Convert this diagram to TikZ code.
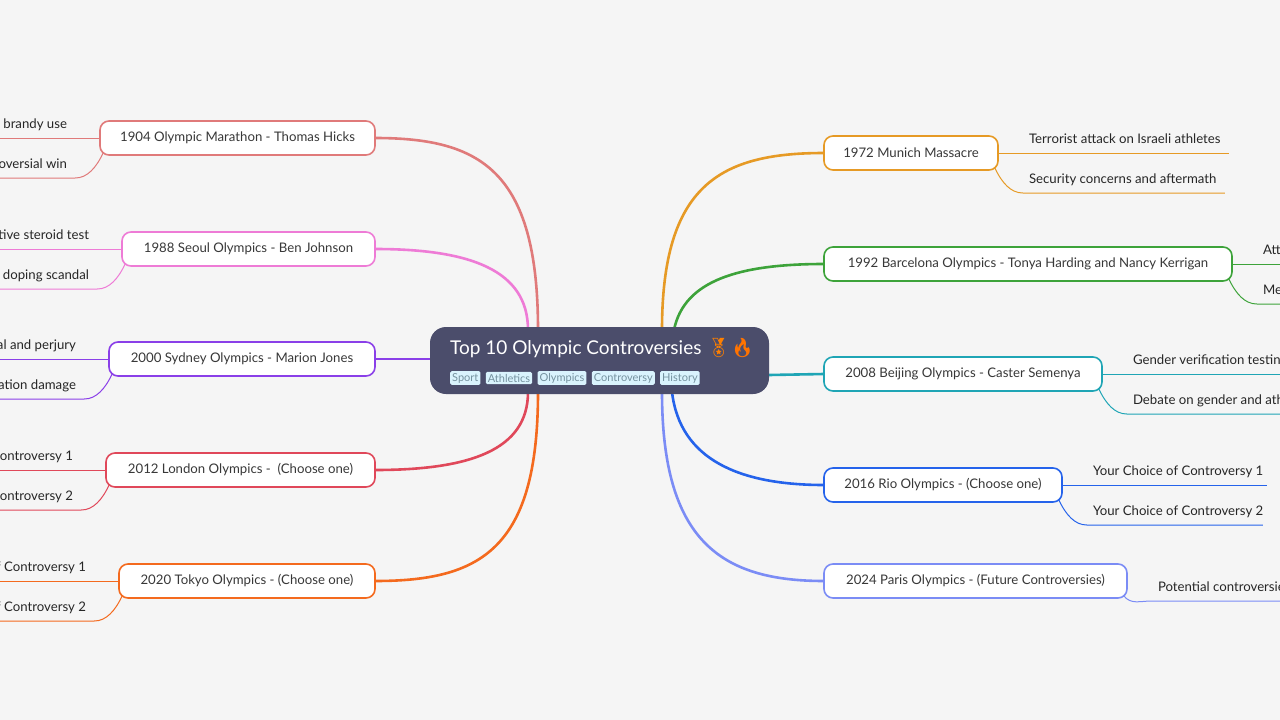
\documentclass[tikz,border=0pt]{standalone}
\usepackage{fontspec}
\setmainfont{Lato}
\newfontfamily\emo{Noto Emoji}
\begin{document}
\begin{tikzpicture}[x=1pt,y=-1pt,
 br/.style={draw=#1,line width=1.6pt,fill=white,rounded corners=9pt,minimum height=34pt,inner xsep=0pt,font=\fontsize{13.2}{15}\selectfont,text=black!78},
 ln/.style={draw=#1,line width=2.6pt},
 cl/.style={draw=#1,line width=1pt},
 ct/.style={font=\fontsize{13.2}{15}\selectfont,text=black!85,inner sep=0pt},
 tag/.style={fill=cyan!15,text=cyan!40!black!70,font=\fontsize{11}{12}\selectfont,inner xsep=2pt,inner ysep=2pt,rounded corners=1.5pt,anchor=west}]
\definecolor{c1}{HTML}{E07A7A}\definecolor{c2}{HTML}{EE7BD6}\definecolor{c3}{HTML}{8A3FE8}
\definecolor{c4}{HTML}{E0485A}\definecolor{c5}{HTML}{F46A1E}\definecolor{c6}{HTML}{E69A25}
\definecolor{c7}{HTML}{3DA33A}\definecolor{c8}{HTML}{1FA5B5}\definecolor{c9}{HTML}{2563EB}
\definecolor{c10}{HTML}{7B8CF5}\definecolor{mid}{RGB}{75,77,107}
\fill[black!4] (0,0) rectangle (1280,720);
\useasboundingbox (0,0) rectangle (1280,720);
\clip (0,0) rectangle (1280,720);
\coordinate (a0) at (538,330); \coordinate (b0) at (528,330); \coordinate (c0) at (430,359);
\coordinate (d0) at (528,392); \coordinate (e0) at (538,392);
\coordinate (f0) at (662,330); \coordinate (g0) at (674,330); \coordinate (h0) at (769,375);
\coordinate (i0) at (672,392); \coordinate (j0) at (662,392);
\coordinate (a) at (375,138); \coordinate (b) at (375,249); \coordinate (c) at (375,359);
\coordinate (d) at (375,470); \coordinate (e) at (375,581);
\coordinate (f) at (824,153); \coordinate (g) at (824,264); \coordinate (h) at (824,374);
\coordinate (i) at (824,485); \coordinate (j) at (824,581);
\draw[ln=c1] (a0) .. controls (538,170) and (480,138) .. (a);
\draw[ln=c2] (b0) .. controls (528,270) and (470,249) .. (b);
\draw[ln=c3] (c0) -- (c);
\draw[ln=c4] (d0) .. controls (528,450) and (470,470) .. (d);
\draw[ln=c5] (e0) .. controls (538,550) and (480,581) .. (e);
\draw[ln=c6] (f0) .. controls (662,185) and (720,153) .. (f);
\draw[ln=c7] (g0) .. controls (684,280) and (740,264) .. (g);
\draw[ln=c8] (h0) -- (h);
\draw[ln=c9] (i0) .. controls (680,460) and (740,485) .. (i);
\draw[ln=c10] (j0) .. controls (662,540) and (720,581) .. (j);
\node[br=c1,minimum width=275pt] (A) at (237.5,138) {1904 Olympic Marathon - Thomas Hicks};
\node[br=c2,minimum width=253pt] (B) at (248.5,249) {1988 Seoul Olympics - Ben Johnson};
\node[br=c3,minimum width=266pt] (C) at (242,359) {2000 Sydney Olympics - Marion Jones};
\node[br=c4,minimum width=269pt] (D) at (240.5,470) {2012 London Olympics -\ \ (Choose one)};
\node[br=c5,minimum width=256pt] (E) at (247,581) {2020 Tokyo Olympics - (Choose one)};
\node[br=c6,minimum width=174pt] (F) at (911,153) {1972 Munich Massacre};
\node[br=c7,minimum width=408pt] (G) at (1028,264) {1992 Barcelona Olympics - Tonya Harding and Nancy Kerrigan};
\node[br=c8,minimum width=278pt] (H) at (963,374) {2008 Beijing Olympics - Caster Semenya};
\node[br=c9,minimum width=238pt] (I) at (943,485) {2016 Rio Olympics - (Choose one)};
\node[br=c10,minimum width=303pt] (J) at (975.5,581) {2024 Paris Olympics - (Future Controversies)};
\node[fill=mid,rounded corners=16pt,minimum width=339pt,minimum height=67pt] (m) at (599.5,360.5) {};
\node[anchor=west,text=white,font=\fontsize{19}{22}\selectfont,inner sep=0pt] (title) at (450,348) {Top 10 Olympic Controversies {\emo\color{orange}🏅}{\emo\color{orange!90!red}🔥}};
\node[tag] (t1) at (450,378) {Sport};
\node[tag] (t2) at ([xshift=5pt]t1.east) {Athletics};
\node[tag] (t3) at ([xshift=5pt]t2.east) {Olympics};
\node[tag] (t4) at ([xshift=5pt]t3.east) {Controversy};
\node[tag] (t5) at ([xshift=5pt]t4.east) {History};
\foreach \n/\c/\ta/\tb in {A/c1/Strychnine and brandy use/Controversial win,
  B/c2/Positive steroid test/Major doping scandal,
  C/c3/Stripped of medal and perjury/Reputation damage,
  D/c4/Your Choice of Controversy 1/Your Choice of Controversy 2,
  E/c5/Your Choice of Controversy 1/Your Choice of Controversy 2}{
  \draw[cl=\c] (\n.west) -- ([xshift=-400pt]\n.west);
  \draw[cl=\c] ([xshift=4pt,yshift=3pt]\n.south west) .. controls ([xshift=-3pt,yshift=-12pt]\n.south west) and ([xshift=-12pt,yshift=-40pt]\n.west) .. ([xshift=-24pt,yshift=-40pt]\n.west) -- ([xshift=-400pt,yshift=-40pt]\n.west);
  \node[ct,anchor=base east] at ([xshift=-32pt,yshift=10pt]\n.west) {\ta};
  \node[ct,anchor=base east] at ([xshift=-32pt,yshift=-30pt]\n.west) {\tb};
}
\foreach \n/\c/\L/\ta/\tb in {F/c6/230/Terrorist attack on Israeli athletes/Security concerns and aftermath,
  G/c7/400/Attack on Nancy Kerrigan/Media frenzy,
  H/c8/400/Gender verification testing/Debate on gender and athletics,
  I/c9/204/Your Choice of Controversy 1/Your Choice of Controversy 2}{
  \draw[cl=\c] (\n.east) -- ([xshift=\L pt]\n.east);
  \draw[cl=\c] ([xshift=-4pt,yshift=3pt]\n.south east) .. controls ([xshift=3pt,yshift=-12pt]\n.south east) and ([xshift=12pt,yshift=-40pt]\n.east) .. ([xshift=24pt,yshift=-40pt]\n.east) -- ([xshift=\L pt-4pt,yshift=-40pt]\n.east);
  \node[ct,anchor=base west] at ([xshift=30pt,yshift=10pt]\n.east) {\ta};
  \node[ct,anchor=base west] at ([xshift=30pt,yshift=-30pt]\n.east) {\tb};
}
\draw[cl=c10] ([xshift=-4pt,yshift=3pt]J.south east) .. controls ([xshift=3pt,yshift=-6pt]J.south east) and ([xshift=12pt,yshift=-20pt]J.east) .. ([xshift=24pt,yshift=-20pt]J.east) -- ([xshift=300pt,yshift=-20pt]J.east);
\node[ct,anchor=base west] (jt) at ([xshift=30pt,yshift=-10pt]J.east) {Potential controversies};
\end{tikzpicture}
\end{document}
